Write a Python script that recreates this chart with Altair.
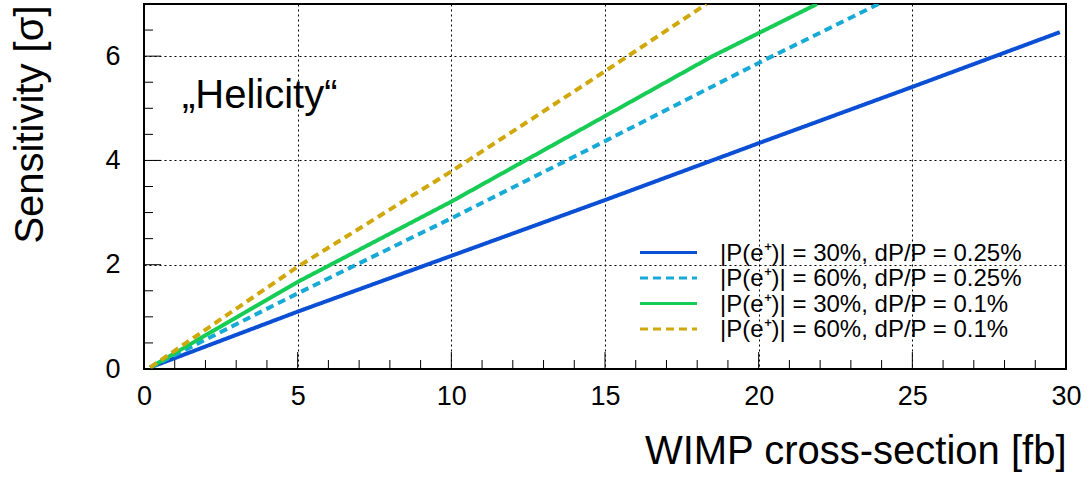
import altair as alt
import pandas as pd

FONT = "Liberation Sans"

series = [
    "|P(e⁺)| = 30%, dP/P = 0.25%",
    "|P(e⁺)| = 60%, dP/P = 0.25%",
    "|P(e⁺)| = 30%, dP/P = 0.1%",
    "|P(e⁺)| = 60%, dP/P = 0.1%",
]
colors = ["#0b50d4", "#18aad6", "#17cc55", "#d0a80c"]
dashes = [[1, 0], [8, 5], [1, 0], [8, 5]]

blue_x = [0.2, 5, 10, 15, 20, 25, 29.8]
blue_y = [0.03, 1.10, 2.17, 3.24, 4.33, 5.41, 6.46]
cyan_x = [0.2, 5, 10, 15, 20, 23.9]
cyan_y = [0.03, 1.45, 2.89, 4.37, 5.87, 7.0]
green_x = [0.2, 5, 10, 15, 18.5, 21.9]
green_y = [0.03, 1.67, 3.21, 4.85, 6.0, 7.0]
gold_x = [0.2, 5, 10, 15, 18.3]
gold_y = [0.03, 1.96, 3.79, 5.71, 7.0]

x_major = [0, 5, 10, 15, 20, 25, 30]
x_minor = [v for v in range(1, 30) if v % 5 != 0]
y_major = [0, 2, 4, 6]
y_minor = [0.5, 1, 1.5, 2.5, 3, 3.5, 4.5, 5, 5.5, 6.5]

rows = []
for name, xs, ys in zip(series, [blue_x, cyan_x, green_x, gold_x],
                        [blue_y, cyan_y, green_y, gold_y]):
    for i, (a, b) in enumerate(zip(xs, ys)):
        rows.append({"series": name, "x": a, "y": b, "o": i})
df = pd.DataFrame(rows)

W, H = 922, 365
xscale = alt.Scale(domain=[0, 30], nice=False, zero=False)
yscale = alt.Scale(domain=[0, 7], nice=False, zero=False)
cscale = alt.Scale(domain=series, range=colors)
dscale = alt.Scale(domain=series, range=dashes)

lines = alt.Chart(df).mark_line(strokeWidth=4, clip=True).encode(
    x=alt.X("x:Q", scale=xscale, axis=alt.Axis(
        values=x_major, format="d", title="WIMP cross-section [fb]", grid=True,
        gridDash=[2, 3], gridColor="#000", gridOpacity=1, gridWidth=1,
        ticks=False, tickSize=0, domain=False, labelFontSize=27,
        labelFont=FONT, labelColor="#000", labelPadding=14, labelFlush=False,
        titleFont=FONT, titleFontSize=40, titleFontWeight="normal",
        titleColor="#000", titleAnchor="end", titleAlign="right",
        titleX=W, titleY=94, titleBaseline="alphabetic")),
    y=alt.Y("y:Q", scale=yscale, axis=alt.Axis(
        values=y_major, format="d", title="Sensitivity  [σ]", grid=True,
        gridDash=[2, 3], gridColor="#000", gridOpacity=1, gridWidth=1,
        ticks=False, tickSize=0, domain=False, labelFontSize=27,
        labelFont=FONT, labelColor="#000", labelPadding=24, labelFlush=False,
        titleFont=FONT, titleFontSize=40, titleFontWeight="normal",
        titleColor="#000", titleAngle=270, titleAlign="right",
        titleBaseline="alphabetic", titleX=-102, titleY=1)),
    color=alt.Color("series:N", scale=cscale, legend=None),
    strokeDash=alt.StrokeDash("series:N", scale=dscale, legend=None),
    order="o:Q",
)

def xticks(vals, length):
    return alt.Chart(pd.DataFrame({"x": vals})).mark_rule(
        color="#000", strokeWidth=1).encode(
        x=alt.X("x:Q", scale=xscale), y=alt.value(H), y2=alt.value(H - length))

def yticks(vals, length):
    return alt.Chart(pd.DataFrame({"y": vals})).mark_rule(
        color="#000", strokeWidth=1).encode(
        y=alt.Y("y:Q", scale=yscale), x=alt.value(0), x2=alt.value(length))

helicity = alt.Chart(pd.DataFrame({"t": ["„Helicity“"]})).mark_text(
    font=FONT, fontSize=40, align="left", baseline="alphabetic", color="#000"
).encode(text="t:N", x=alt.value(38), y=alt.value(104))

legend_layers = []
row_y = [248.5, 274, 299.5, 325]
for name, c, d, ry in zip(series, colors, dashes, row_y):
    legend_layers.append(
        alt.Chart(pd.DataFrame({"s": [name]})).mark_rule(
            color=c, strokeWidth=3, strokeDash=d).encode(
            x=alt.value(496), x2=alt.value(553), y=alt.value(ry)))
    legend_layers.append(
        alt.Chart(pd.DataFrame({"s": [name]})).mark_text(
            font=FONT, fontSize=24, align="left", baseline="middle",
            color="#000").encode(text="s:N", x=alt.value(576), y=alt.value(ry + 1)))

chart = alt.layer(
    lines,
    xticks(x_major, 17), xticks(x_minor, 9),
    yticks(y_major, 17), yticks(y_minor, 9),
    helicity, *legend_layers,
).properties(
    width=W, height=H, autosize="none",
    padding={"left": 144, "top": 4, "right": 22, "bottom": 110},
    background="white",
).configure_view(stroke="#000", strokeWidth=2)

chart.save("out.html", embed_options={"renderer": "svg", "actions": False})
